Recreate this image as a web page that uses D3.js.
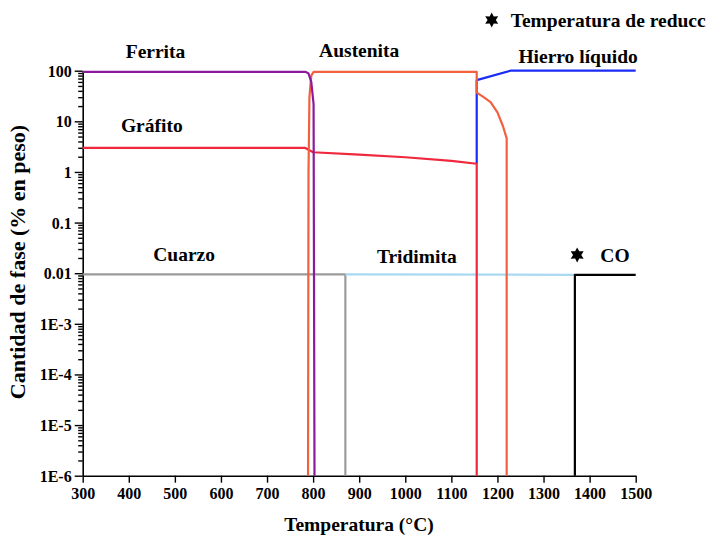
<!DOCTYPE html>
<html><head><meta charset="utf-8">
<script src="https://cdn.jsdelivr.net/npm/d3@7/dist/d3.min.js"></script>
<style>
body{margin:0;background:#fff;}
svg{display:block;font-family:"Liberation Serif","Times New Roman",serif;font-weight:bold;}
</style></head>
<body><svg id="c" width="707" height="537"></svg>
<script>
// ---- data ----
const xTicks = [300,400,500,600,700,800,900,1000,1100,1200,1300,1400,1500];
const yTicks = [100,10,1,0.1,0.01,1e-3,1e-4,1e-5,1e-6];
const yTickLabels = ["100","10","1","0.1","0.01","1E-3","1E-4","1E-5","1E-6"];

const ferrita   = [[300,95],[784,95],[790,88],[796,60],[801,22],[803,1e-6]];
const liquido   = [[1155,1.45],[1155,65],[1228,100],[1500,100]];
const austenita = [[789,1e-6],[790,1],[792,30],[796,80],[801,95],[1155,95],[1155,37],[1170,30],[1185,24],[1200,15],[1212,8],[1220,4.6],[1220,1e-6]];
const grafito   = [[300,3.0],[782,3.0],[800,2.45],[900,2.2],[1000,1.95],[1100,1.65],[1155,1.45],[1155,1e-6]];
const cuarzo    = [[300,0.0095],[870,0.0095],[870,1e-6]];
const tridimita = [[870,0.0095],[1368,0.0093]];
const co        = [[1368,1e-6],[1368,0.0093],[1500,0.0093]];
const coStar    = [[1373,0.023]];

const series = [
  {name:"Cuarzo", data:cuarzo, color:"#9b9b9b"},
  {name:"Tridimita", data:tridimita, color:"#a9d9f2"},
  {name:"CO", data:co, color:"#000000"},
  {name:"Hierro líquido", data:liquido, color:"#1a2cf5"},
  {name:"Grafito", data:grafito, color:"#f0283c"},
  {name:"Austenita", data:austenita, color:"#f2603f"},
  {name:"Ferrita", data:ferrita, color:"#8c1b9b"}
];

// ---- scales ----
const svg = d3.select("#c");
const x = d3.scaleLinear().domain([300,1500]).range([82.7,635.7]);
const y = d3.scaleLog().domain([1e-6,100]).range([475.7,70.7]);

// y minor ticks
const minor = [];
for (let e=-6; e<2; e++) for (let m=2; m<=9; m++) minor.push(m*Math.pow(10,e));

const gy = svg.append("g").attr("transform","translate(82.7,0)");
gy.call(d3.axisLeft(y).tickValues(minor).tickSize(4.5).tickSizeOuter(0).tickFormat(""));
gy.selectAll("path").remove();
const gy2 = svg.append("g").attr("transform","translate(82.7,0)");
gy2.call(d3.axisLeft(y).tickValues(yTicks).tickSize(8).tickSizeOuter(0).tickPadding(3)
  .tickFormat((d,i)=>yTickLabels[i]));
svg.selectAll("g .tick line").attr("stroke","#000").attr("stroke-width",1.4);
gy2.select("path").attr("stroke","#000").attr("stroke-width",1.6);
gy2.selectAll("text").attr("font-size",16).attr("font-weight","bold").attr("fill","#000")
   .attr("font-family","Liberation Serif").attr("dy","0.34em");

const gx = svg.append("g").attr("transform","translate(0,475.7)");
gx.call(d3.axisBottom(x).tickValues(xTicks).tickSize(7).tickSizeOuter(0).tickPadding(5).tickFormat(d3.format("d")));
gx.select("path").attr("stroke","#000").attr("stroke-width",1.6);
gx.selectAll("line").attr("stroke","#000").attr("stroke-width",1.4);
gx.selectAll("text").attr("font-size",16).attr("font-weight","bold").attr("fill","#000")
   .attr("font-family","Liberation Serif");

// lines
const line = d3.line().x(d=>x(d[0])).y(d=>y(d[1]));
svg.append("g").selectAll("path").data(series).join("path")
  .attr("d",d=>line(d.data)).attr("fill","none").attr("stroke",d=>d.color)
  .attr("stroke-width",2.2).attr("stroke-linejoin","round");

// hexagram symbol
const hexStar = {draw(ctx,size){
  const r = Math.sqrt(size)/1.4, ri = r*0.55;
  for(let i=0;i<12;i++){
    const a = -Math.PI/2 + i*Math.PI/6;
    const rr = i%2===0 ? r : ri;
    const px = rr*Math.cos(a), py = rr*Math.sin(a);
    if(i===0) ctx.moveTo(px,py); else ctx.lineTo(px,py);
  }
  ctx.closePath();
}};
const sym = d3.symbol().type(hexStar).size(110);
svg.selectAll(".star").data(coStar).join("path").attr("class","star")
  .attr("transform",d=>`translate(${x(d[0])},${y(d[1])})`).attr("d",sym).attr("fill","#000");

// legend (text visible in the reference is truncated at the right edge)
svg.append("path").attr("transform","translate(491.7,20)").attr("d",sym).attr("fill","#000");
svg.append("text").attr("x",510.7).attr("y",27).attr("font-size",19.5).text("Temperatura de reducc");

// phase labels
const phaseLabels = [
  {t:"Ferrita", v:[458,95], dy:-14},
  {t:"Austenita", v:[900,95], dy:-15},
  {t:"Hierro líquido", v:[1375,100], dy:-8},
  {t:"Gráfito", v:[450,3.0], dy:-16},
  {t:"Cuarzo", v:[520,0.0095], dy:-13},
  {t:"Tridimita", v:[1025,0.0095], dy:-11},
  {t:"CO", v:[1455,0.0093], dy:-13}
];
svg.append("g").selectAll("text").data(phaseLabels).join("text")
  .attr("x",d=>x(d.v[0])).attr("y",d=>y(d.v[1])+d.dy)
  .attr("text-anchor","middle").attr("font-size",19.5).attr("fill","#000").text(d=>d.t);

// axis titles
svg.append("text").attr("x",359).attr("y",531).attr("text-anchor","middle").attr("font-size",19.5).text("Temperatura (°C)");
svg.append("text").attr("transform","translate(25,262) rotate(-90)").attr("text-anchor","middle").attr("font-size",22).text("Cantidad de fase (% en peso)");
</script>
</body></html>
